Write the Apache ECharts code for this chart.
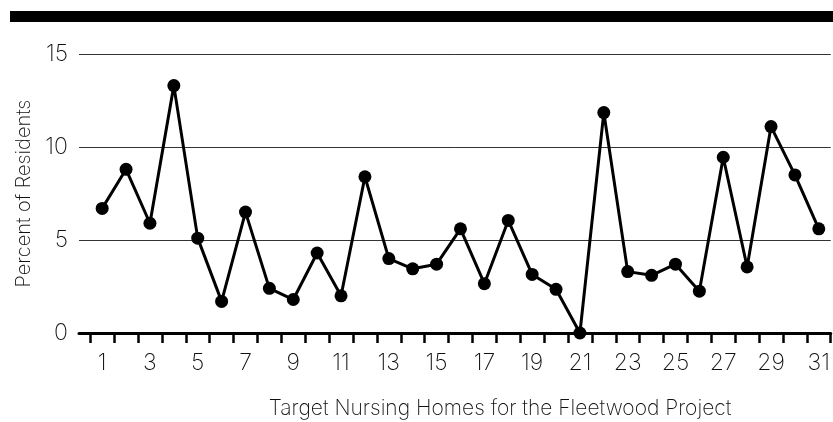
<!DOCTYPE html>
<html>
<head>
<meta charset="utf-8">
<script src="https://cdn.jsdelivr.net/npm/echarts@6/dist/echarts.min.js"></script>
<style>
  html, body { margin: 0; padding: 0; background: #fff; }
  #chart { width: 833px; height: 422px; }
</style>
</head>
<body>
<div id="chart"></div>
<script>
// nursing home numbers and percent of residents
var homes = [1, 2, 3, 4, 5, 6, 7, 8, 9, 10, 11, 12, 13, 14, 15, 16,
  17, 18, 19, 20, 21, 22, 23, 24, 25, 26, 27, 28, 29, 30, 31]
var percent = [6.7, 8.8, 5.9, 13.3, 5.1, 1.7, 6.5, 2.4, 1.8, 4.3, 2.0, 8.4,
  4.0, 3.45, 3.7, 5.6, 2.65, 6.05, 3.15, 2.35, 0, 11.85, 3.3, 3.1, 3.7, 2.25,
  9.45, 3.55, 11.1, 8.5, 5.6]
var xLabels = [1, 3, 5, 7, 9, 11, 13, 15, 17, 19, 21, 23, 25, 27, 29, 31]
var yTicks = [0, 5, 10, 15]
// tick marks sit between homes
var xTicks = homes.map(function(h) { return h - 0.5 }).concat([31.5])

var font = 'Inter'
var chart = echarts.init(document.getElementById('chart'))
chart.setOption({
  animation: false,
  grid: {
    left: 79,
    right: 0,
    top: 54,
    bottom: 89
  },
  graphic: [
    {
      type: 'rect',
      shape: { x: 10, y: 11, width: 823, height: 11 },
      style: { fill: '#000' }
    },
    {
      type: 'text',
      x: 500,
      y: 409,
      style: {
        text: 'Target Nursing Homes for the Fleetwood Project',
        fontFamily: font,
        fontWeight: 200,
        fontSize: 21,
        fill: '#111',
        align: 'center',
        verticalAlign: 'middle'
      }
    }
  ],
  xAxis: {
    type: 'value',
    min: 0.03,
    max: 31.5,
    splitLine: { show: false },
    axisLine: { lineStyle: { color: '#000', width: 3 } },
    axisTick: {
      show: true,
      customValues: xTicks,
      length: 10,
      lineStyle: { color: '#000', width: 2.5 }
    },
    axisLabel: {
      customValues: xLabels,
      margin: 19,
      fontFamily: font,
      fontWeight: 200,
      fontSize: 23,
      color: '#111'
    }
  },
  yAxis: {
    type: 'value',
    min: 0,
    max: 15,
    interval: 5,
    name: 'Percent of Residents',
    nameLocation: 'middle',
    nameGap: 45,
    nameTextStyle: {
      fontFamily: font,
      fontWeight: 200,
      fontSize: 20,
      color: '#111'
    },
    axisLine: { show: false },
    axisTick: { show: false },
    splitLine: { lineStyle: { color: '#333', width: 1 } },
    axisLabel: {
      customValues: yTicks,
      margin: 11,
      fontFamily: font,
      fontWeight: 200,
      fontSize: 23,
      color: '#111'
    }
  },
  series: [
    {
      type: 'line',
      data: homes.map(function(h, i) { return [h, percent[i]] }),
      symbol: 'circle',
      symbolSize: 13,
      lineStyle: { color: '#000', width: 3 },
      itemStyle: { color: '#000' }
    }
  ]
})
</script>
</body>
</html>
